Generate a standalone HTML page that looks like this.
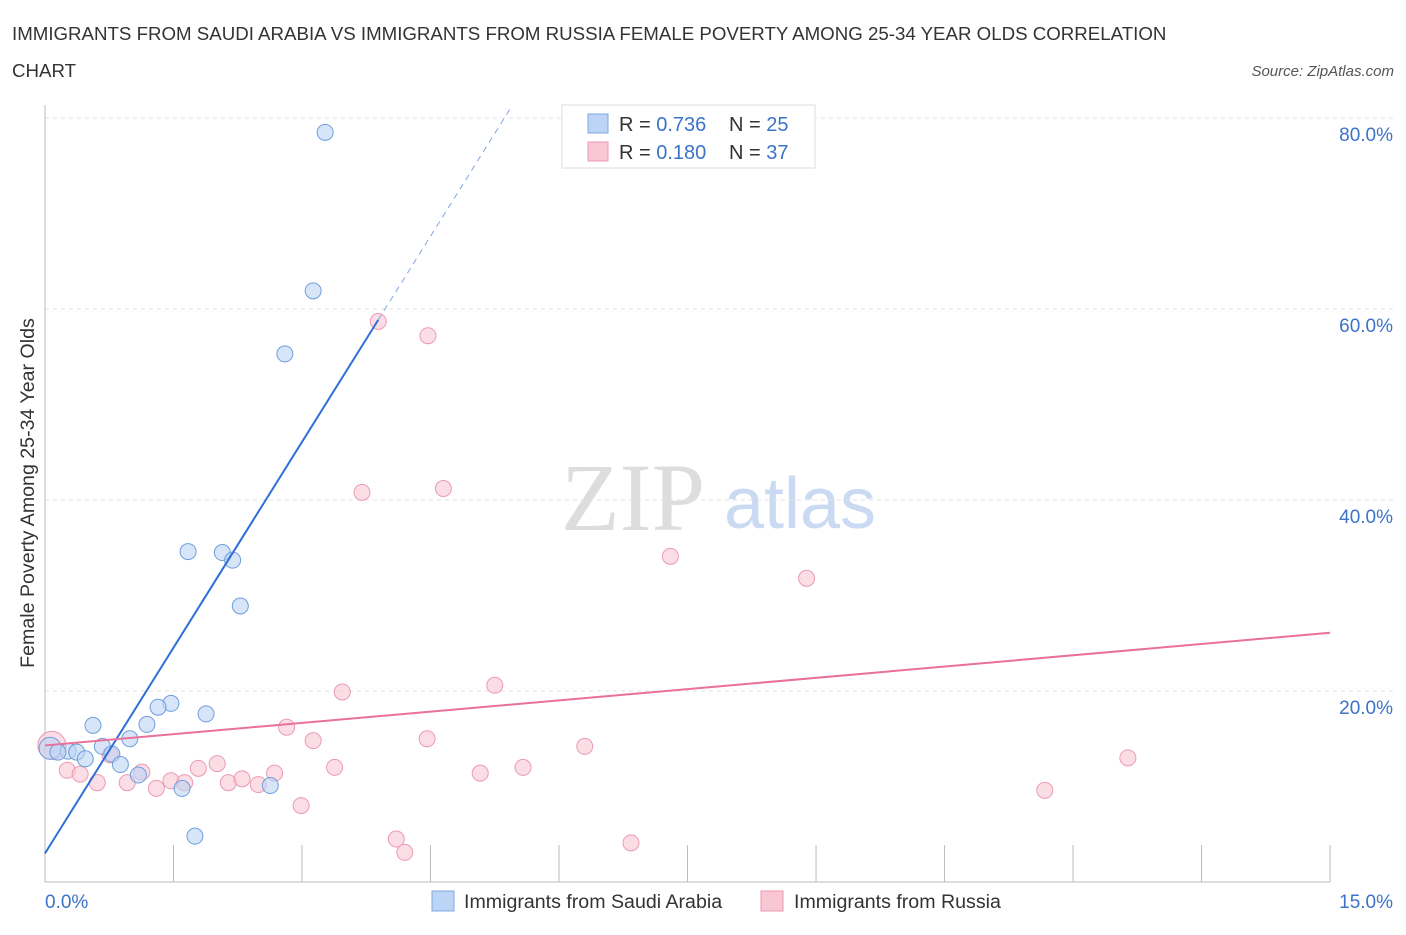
<!DOCTYPE html>
<html><head><meta charset="utf-8"><style>
body{margin:0;background:#fff;font-family:"Liberation Sans",sans-serif;}
</style></head><body>
<svg width="1406" height="930" xmlns="http://www.w3.org/2000/svg">
<text x="12" y="40" font-size="18.7" fill="#333">IMMIGRANTS FROM SAUDI ARABIA VS IMMIGRANTS FROM RUSSIA FEMALE POVERTY AMONG 25-34 YEAR OLDS CORRELATION</text>
<text x="12" y="77" font-size="18.7" fill="#333">CHART</text>
<text x="1394" y="76" font-size="15" fill="#555" font-style="italic" text-anchor="end">Source: ZipAtlas.com</text>
<text x="633" y="530" font-size="96" fill="#ddd" font-family="Liberation Serif" text-anchor="middle">ZIP</text>
<text x="800" y="528" font-size="72" fill="#c9daf2" text-anchor="middle">atlas</text>
<g id="grid"></g>
<g id="axes"></g>
<g id="marks"></g>
<text transform="translate(34,493) rotate(-90)" font-size="19.6" fill="#333" text-anchor="middle">Female Poverty Among 25-34 Year Olds</text>
<text x="45" y="908" font-size="19" fill="#3b73c9">0.0%</text>
<text x="1393" y="908" font-size="19" fill="#3b73c9" text-anchor="end">15.0%</text>
<g>
<rect x="562" y="105" width="253" height="63" fill="#fff" stroke="#ddd"/>
<rect x="588" y="114" width="20" height="19" fill="#bcd4f5" stroke="#7fa8e0"/>
<rect x="588" y="142" width="20" height="19" fill="#f9c6d4" stroke="#ec9ab3"/>
<text x="619" y="131" font-size="20" fill="#333">R = <tspan fill="#3b73c9">0.736</tspan></text>
<text x="729" y="131" font-size="20" fill="#333">N = <tspan fill="#3b73c9">25</tspan></text>
<text x="619" y="159" font-size="20" fill="#333">R = <tspan fill="#3b73c9">0.180</tspan></text>
<text x="729" y="159" font-size="20" fill="#333">N = <tspan fill="#3b73c9">37</tspan></text>
</g>
<g>
<rect x="432" y="891" width="22" height="20" fill="#bcd4f5" stroke="#7fa8e0"/>
<text x="464" y="908" font-size="19.6" fill="#333">Immigrants from Saudi Arabia</text>
<rect x="761" y="891" width="22" height="20" fill="#f9c6d4" stroke="#ec9ab3"/>
<text x="794" y="908" font-size="19.6" fill="#333">Immigrants from Russia</text>
</g>
</svg>
<script>
const blueX=[3.27,3.13,2.80,1.67,2.07,2.19,2.28,1.47,1.32,1.88,0.56,1.19,0.99,0.67,0.06,0.27,0.37,0.47,0.78,0.88,1.09,1.60,2.63,1.75,0.15];
const blueY=[78.5,61.9,55.3,34.6,34.5,33.7,28.9,18.7,18.3,17.6,16.4,16.5,15.0,14.2,14.0,13.7,13.6,12.9,13.4,12.3,11.2,9.8,10.1,4.8,13.6];
const pinkX=[3.89,4.47,3.70,4.65,7.30,8.89,3.47,5.25,2.82,3.13,4.46,6.30,12.64,0.08,0.26,0.41,0.61,0.76,0.96,1.13,1.30,1.47,1.63,1.79,2.01,2.14,2.30,2.49,2.68,2.99,3.38,4.10,4.20,5.08,5.58,6.84,11.67];
const pinkY=[58.7,57.2,40.8,41.2,34.1,31.8,19.9,20.6,16.2,14.8,15.0,14.2,13.0,14.3,11.7,11.3,10.4,13.3,10.4,11.5,9.8,10.6,10.4,11.9,12.4,10.4,10.8,10.2,11.4,8.0,12.0,4.5,3.1,11.4,12.0,4.1,9.6];
const yTicks=[20,40,60,80];
const yTickLabels=["20.0%","40.0%","60.0%","80.0%"];
const xTicks=[0,1.5,3,4.5,6,7.5,9,10.5,12,13.5,15];
const blueTrend=[3.0,14.36];
const pinkTrend=[14.3,26.1];
const X=v=>45+v*85.67, Y=v=>882-v*9.55;
const NS="http://www.w3.org/2000/svg";
function mk(p,t,a){const e=document.createElementNS(NS,t);for(const k in a)e.setAttribute(k,a[k]);document.getElementById(p).appendChild(e);return e;}
yTicks.forEach((t,i)=>{
 const l=mk('grid','line',{x1:45,x2:1393,y1:Y(t),y2:Y(t),stroke:'#e2e2e2','stroke-dasharray':'4,4'});
 
 
 const tx=mk('grid','text',{x:1393,y:Y(t)+23,'font-size':19,fill:'#3b73c9','text-anchor':'end'});
 tx.textContent=yTickLabels[i];
 
 
});
let ax=mk('axes','line',{x1:45,x2:45,y1:105,y2:882,stroke:'#bbb'});


ax=mk('axes','line',{x1:45,x2:1330,y1:882,y2:882,stroke:'#bbb'});


xTicks.forEach(t=>{const l=mk('axes','line',{x1:X(t),x2:X(t),y1:882,y2:845,stroke:'#bbb'});
 
 });
pinkX.forEach((x,i)=>{const big=i==13;const c=mk('marks','circle',{cx:X(x),cy:Y(pinkY[i]),r:big?14:8,fill:'#f9c6d4','fill-opacity':0.6,stroke:'#ec9ab3','stroke-width':1});
 
 });
blueX.forEach((x,i)=>{const big=i==14;const c=mk('marks','circle',{cx:X(x),cy:Y(blueY[i]),r:big?11:8,fill:'#bcd4f5','fill-opacity':0.6,stroke:'#6f9edb','stroke-width':1});
 
 });
const bx=v=>blueTrend[0]+blueTrend[1]*v;
let t=mk('marks','line',{x1:X(0),y1:Y(bx(0)),x2:X(3.89),y2:Y(bx(3.89)),stroke:'#2f6fd6','stroke-width':2});


t=mk('marks','line',{x1:X(3.89),y1:Y(bx(3.89)),x2:X(5.45),y2:Y(bx(5.45)),stroke:'#7fa8e0','stroke-width':1,'stroke-dasharray':'6,5'});


t=mk('marks','line',{x1:X(0),y1:Y(pinkTrend[0]),x2:X(15),y2:Y(pinkTrend[1]),stroke:'#e8709a','stroke-width':2});


</script>
</body></html>
